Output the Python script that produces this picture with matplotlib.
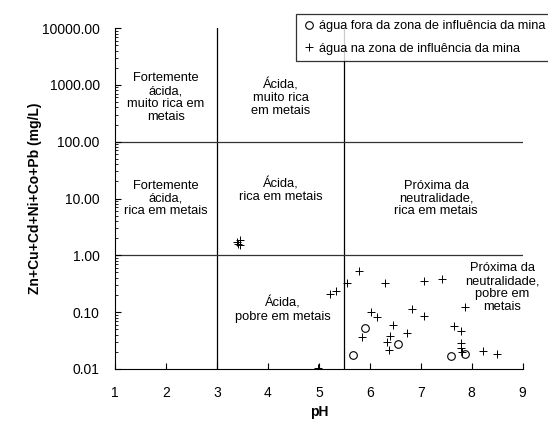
import numpy as np
import matplotlib
matplotlib.use("Agg")
import matplotlib.pyplot as plt

plt.rcParams['font.family'] = ['Liberation Sans', 'DejaVu Sans']

# agua fora da zona de influencia da mina (circles)
ph_fora = [5.67, 5.91, 6.55, 7.59, 7.87]
conc_fora = [0.0177, 0.053, 0.027, 0.017, 0.018]

# agua na zona de influencia da mina (plus)
ph_na = [3.40, 3.45, 3.45, 3.42, 4.98, 5.22, 5.33, 5.55, 5.78, 5.84,
         6.02, 6.15, 6.30, 6.33, 6.37, 6.40, 6.46, 6.73, 6.82, 7.07,
         7.07, 7.41, 7.65, 7.79, 7.79, 7.79, 7.80, 7.86, 8.22, 8.49]
conc_na = [1.75, 1.85, 1.55, 1.6, 0.0105, 0.21, 0.24, 0.33, 0.53, 0.036,
           0.099, 0.083, 0.33, 0.030, 0.022, 0.038, 0.059, 0.043, 0.113, 0.36,
           0.086, 0.38, 0.058, 0.046, 0.029, 0.023, 0.020, 0.122, 0.021, 0.0185]

# limites das zonas
ph_limits = [3, 5.5]
conc_limits = [100, 1]

zone_labels = [
    (2.0, 600, "Fortemente\nácida,\nmuito rica em\nmetais"),
    (4.25, 600, "Ácida,\nmuito rica\nem metais"),
    (2.0, 10, "Fortemente\nácida,\nrica em metais"),
    (4.25, 14, "Ácida,\nrica em metais"),
    (7.3, 10, "Próxima da\nneutralidade,\nrica em metais"),
    (4.3, 0.11, "Ácida,\npobre em metais"),
    (8.6, 0.27, "Próxima da\nneutralidade,\npobre em\nmetais"),
]

fig = plt.figure(figsize=(5.48, 4.25), dpi=100)
ax = fig.add_axes([0.2099, 0.1318, 0.7439, 0.8022])

for x in ph_limits:
    ax.axvline(x, color="black", lw=0.9, zorder=1)
for y in conc_limits:
    ax.axhline(y, color="#333333", lw=0.9, zorder=1)

ax.plot(ph_fora, conc_fora, "o", mfc="none", mec="black", ms=5.5, mew=0.8,
        label="água fora da zona de influência da mina")
ax.plot(ph_na, conc_na, "+", color="black", ms=6, mew=0.7,
        label="água na zona de influência da mina")

for x, y, t in zone_labels:
    ax.text(x, y, t, ha="center", va="center", fontsize=9.3, linespacing=1.1)

ax.set_yscale("log")
ax.set_xlim(1, 9)
ax.set_ylim(0.01, 10000)
ax.set_xticks(range(1, 10))
ax.set_yticks([0.01, 0.1, 1, 10, 100, 1000, 10000])
ax.set_yticklabels(["%.2f" % v for v in [0.01, 0.1, 1, 10, 100, 1000, 10000]])
ax.tick_params(axis="both", which="both", direction="in", labelsize=10)
ax.tick_params(axis="x", pad=12, length=4)
ax.tick_params(axis="y", which="major", length=4, pad=11)
ax.tick_params(axis="y", which="minor", length=2)
ax.spines["top"].set_visible(False)
ax.spines["right"].set_visible(False)

ax.set_xlabel("pH", fontsize=10, fontweight="bold", labelpad=4)
ax.set_ylabel("Zn+Cu+Cd+Ni+Co+Pb (mg/L)", fontsize=10, fontweight="bold", labelpad=0)

leg = fig.legend(loc="upper left", bbox_to_anchor=(0.540, 0.967), fontsize=9.2,
                 frameon=True, fancybox=False, edgecolor="black",
                 handlelength=1.0, handletextpad=0.3, borderpad=0.5,
                 labelspacing=0.8, borderaxespad=0)
leg.get_frame().set_linewidth(0.9)

fig.savefig("out.png", dpi=100)
